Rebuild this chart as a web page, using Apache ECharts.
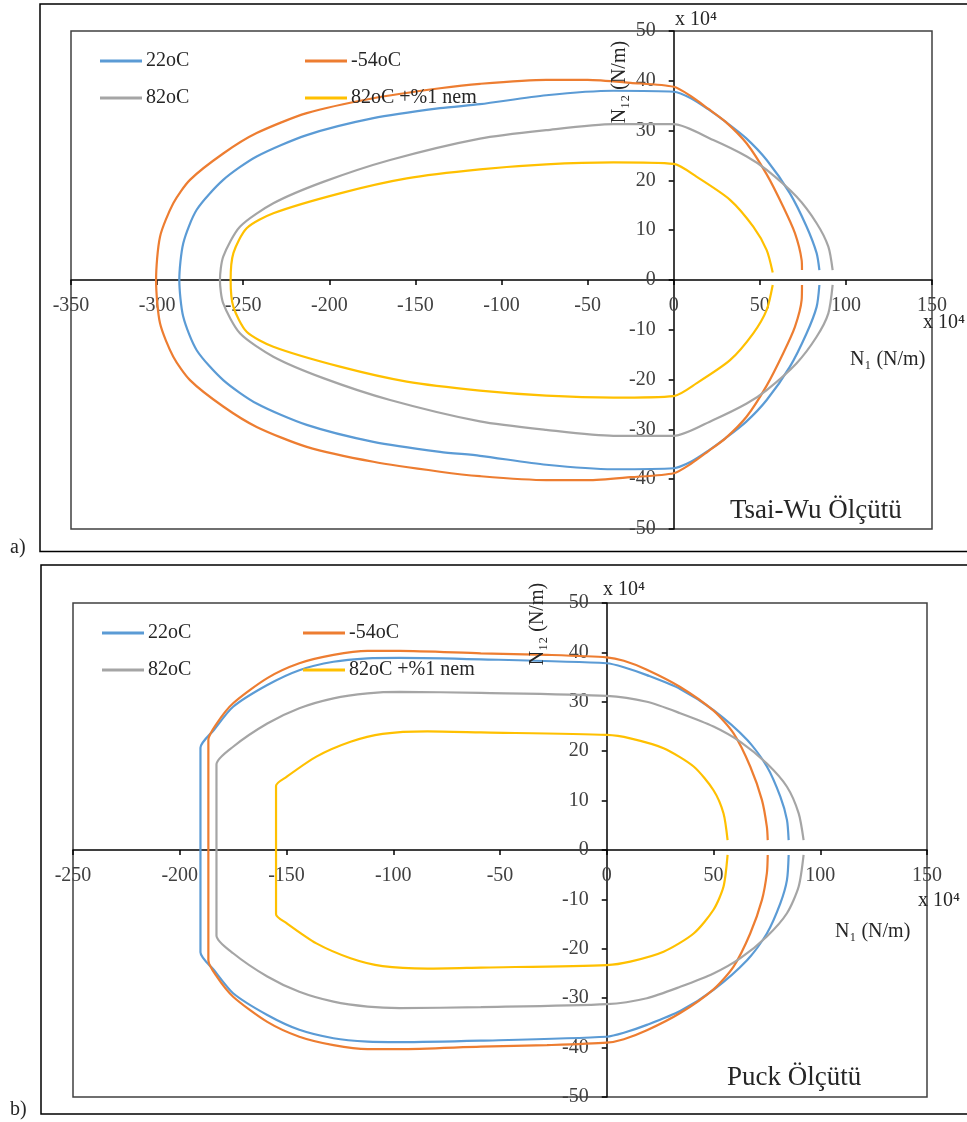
<!DOCTYPE html>
<html>
<head>
<meta charset="utf-8">
<script src="https://cdn.jsdelivr.net/npm/echarts@6/dist/echarts.min.js"></script>
<style>
html,body{margin:0;padding:0;background:#fff;}
#chart{width:967px;height:1122px;}
</style>
</head>
<body>
<div id="chart"></div>
<script>
// ---------- Data (x: N1, y: N12, both in units of 10^4 N/m) ----------
const seriesNames = ['22oC', '-54oC', '82oC', '82oC +%1 nem'];
const seriesColors = ['#5B9BD5', '#ED7D31', '#A5A5A5', '#FFC000'];
const xTicksA = [-350, 150, 50];   // min, max, step (Tsai-Wu)
const xTicksB = [-250, 150, 50];   // min, max, step (Puck)
const yTicks = [-50, 50, 10];

// Tsai-Wu criterion
const tw22Upper = [[84.6,2],[83,5.4],[77.2,10.7],[67.5,17.4],[54,24.1],[42,28.5],[30,31.8],[20,34.3],[10,36.5],[0,37.8],[-35,38],[-74,37.1],[-112.5,35.3],[-135.7,34.5],[-174.4,32.5],[-213.1,29.1],[-242.2,24.8],[-261.6,20.1],[-277,14.1],[-284.8,7.4],[-287.1,0]];
const tw22Lower = [[-284.8,-7.4],[-277,-14.1],[-261.6,-20.1],[-242.2,-24.8],[-213.1,-29.1],[-174.4,-32.5],[-135.7,-34.5],[-112.5,-35.3],[-74,-37.1],[-35,-38],[0,-37.8],[10,-36.5],[20,-34.3],[30,-31.8],[42,-28.5],[54,-24.1],[67.5,-17.4],[77.2,-10.7],[83,-5.4],[84.6,-1]];

const twM54Upper = [[74.5,2],[74.3,4],[70.4,9.4],[63.6,14.7],[54,21.2],[42.4,27.4],[30,31.8],[20,34.4],[10,36.9],[0,38.8],[-25,39.6],[-50,40.2],[-74,40.2],[-112.5,39.4],[-135.7,38.5],[-174.4,36.5],[-213.1,33.5],[-242.2,29.5],[-261.6,25.4],[-280.9,20.1],[-290.6,15.4],[-298.3,8.7],[-300.6,0]];
const twM54Lower = [[-298.3,-8.7],[-290.6,-15.4],[-280.9,-20.1],[-261.6,-25.4],[-242.2,-29.5],[-213.1,-33.5],[-174.4,-36.5],[-135.7,-38.5],[-112.5,-39.4],[-74,-40.2],[-50,-40.2],[-25,-39.6],[0,-38.8],[10,-36.9],[20,-34.4],[30,-31.8],[42.4,-27.4],[54,-21.2],[63.6,-14.7],[70.4,-9.4],[74.3,-4],[74.5,-1]];

const tw82Upper = [[92.3,2],[89.8,6.7],[83,11.4],[71.4,16.7],[54,22.1],[42.4,24.8],[23,28.1],[0,31.3],[-35,31.3],[-74,30.1],[-112.5,28.4],[-164.7,24.1],[-203.5,19.7],[-232.5,15.4],[-251.9,10.7],[-261.6,4.7],[-263.5,0]];
const tw82Lower = [[-261.6,-4.7],[-251.9,-10.7],[-232.5,-15.4],[-203.5,-19.7],[-164.7,-24.1],[-112.5,-28.4],[-74,-30.1],[-35,-31.3],[0,-31.3],[23,-28.1],[42.4,-24.8],[54,-22.1],[71.4,-16.7],[83,-11.4],[89.8,-6.7],[92.3,-1]];

const tw82wUpper = [[57.5,1.5],[54,6],[46.2,10.7],[32.7,16.1],[13.4,20.7],[0,23.3],[-35,23.6],[-74,23.2],[-112.5,22.2],[-155,20.4],[-193.8,17.4],[-232.5,13.4],[-248,10.4],[-255.7,5.4],[-257.3,0]];
const tw82wLower = [[-255.7,-5.4],[-248,-10.4],[-232.5,-13.4],[-193.8,-17.4],[-155,-20.4],[-112.5,-22.2],[-74,-23.2],[-35,-23.6],[0,-23.3],[13.4,-20.7],[32.7,-16.1],[46.2,-10.7],[54,-6],[57.5,-1]];

// Puck criterion
const pk22Upper = [[85.2,2],[84.4,6.1],[81.3,10.8],[75,16.9],[65.7,22.3],[50,28.3],[34.4,32.6],[18.8,35.4],[8,37],[0,37.8],[-59,38.6],[-97,38.9],[-112,38.8],[-128,38.1],[-144,36.4],[-159,33.4],[-175,29],[-184,24.3],[-190.3,20.7],[-190.3,0]];
const pk22Lower = [[-190.3,-20.7],[-184,-24.3],[-175,-29],[-159,-33.4],[-144,-36.4],[-128,-38.1],[-112,-38.8],[-97,-38.9],[-59,-38.6],[0,-37.8],[8,-37],[18.8,-35.4],[34.4,-32.6],[50,-28.3],[65.7,-22.3],[75,-16.9],[81.3,-10.8],[84.4,-6.1],[85.2,-1]];

const pkM54Upper = [[75.4,2],[75,4.7],[72.7,10.1],[67.2,16.9],[59.4,23.6],[50,28.2],[34.4,33],[18.8,36.5],[8,38.3],[0,39],[-28,39.5],[-59,39.8],[-97,40.3],[-112,40.3],[-128,39.5],[-144,37.8],[-159,34.8],[-175,29.7],[-182.7,25.6],[-186.6,22.3],[-186.6,0]];
const pkM54Lower = [[-186.6,-22.3],[-182.7,-25.6],[-175,-29.7],[-159,-34.8],[-144,-37.8],[-128,-39.5],[-112,-40.3],[-97,-40.3],[-59,-39.8],[-28,-39.5],[0,-39],[8,-38.3],[18.8,-36.5],[34.4,-33],[50,-28.2],[59.4,-23.6],[67.2,-16.9],[72.7,-10.1],[75,-4.7],[75.4,-1]];

const pk82Upper = [[92.2,2],[89.9,7.4],[84.4,12.8],[75,17.5],[62.6,21.9],[50,25],[34.4,27.7],[18.8,30],[0,31.2],[-59,31.8],[-97,32],[-112,31.7],[-128,30.7],[-144,28.7],[-159,25.6],[-175,20.9],[-182.8,17.3],[-182.8,0]];
const pk82Lower = [[-182.8,-17.3],[-175,-20.9],[-159,-25.6],[-144,-28.7],[-128,-30.7],[-112,-31.7],[-97,-32],[-59,-31.8],[0,-31.2],[18.8,-30],[34.4,-27.7],[50,-25],[62.6,-21.9],[75,-17.5],[84.4,-12.8],[89.9,-7.4],[92.2,-1]];

const pk82wUpper = [[56.6,2],[54.7,7.4],[50,12.1],[40.7,16.9],[26.6,20.6],[11,22.6],[0,23.3],[-59,23.8],[-84,24],[-105,23.5],[-120,21.9],[-136,18.9],[-150,14.8],[-154.9,13],[-154.9,0]];
const pk82wLower = [[-154.9,-13],[-150,-14.8],[-136,-18.9],[-120,-21.9],[-105,-23.5],[-84,-24],[-59,-23.8],[0,-23.3],[11,-22.6],[26.6,-20.6],[40.7,-16.9],[50,-12.1],[54.7,-7.4],[56.6,-1]];

// ---------- Layout ----------
const FONT = 'Liberation Serif';
const gridA = {left: 71, top: 31, width: 861, height: 498};
const gridB = {left: 73, top: 603, width: 854, height: 494};

// offset that moves an axis from the grid edge onto the zero line of the other axis
function zeroOffsetX(t, g) { return -g.width * (0 - t[0]) / (t[1] - t[0]); }
function zeroOffsetY(g) { return -g.height * (0 - yTicks[0]) / (yTicks[1] - yTicks[0]); }

const chart = echarts.init(document.getElementById('chart'), null, {renderer: 'canvas'});

function xAxisCfg(idx, t, g) {
  return {
    type: 'value', gridIndex: idx, min: t[0], max: t[1], interval: t[2],
    position: 'bottom', offset: zeroOffsetY(g),
    axisLine: {onZero: false, lineStyle: {color: '#000', width: 1.5}},
    axisTick: {show: true, length: 5, lineStyle: {color: '#000', width: 1.5}},
    axisLabel: {margin: 16, fontFamily: FONT, fontSize: 20, color: '#404040'},
    splitLine: {show: false}
  };
}
function yAxisCfg(idx, t, g) {
  return {
    type: 'value', gridIndex: idx, min: yTicks[0], max: yTicks[1], interval: yTicks[2],
    position: 'left', offset: zeroOffsetX(t, g),
    axisLine: {onZero: false, lineStyle: {color: '#000', width: 1.5}},
    axisTick: {show: true, length: 5, lineStyle: {color: '#000', width: 1.5}},
    axisLabel: {margin: 18, fontFamily: FONT, fontSize: 20, color: '#404040'},
    splitLine: {show: false}
  };
}
function lineSeries(name, color, idx, upper, lower) {
  return {
    type: 'line', name: name, xAxisIndex: idx, yAxisIndex: idx,
    data: upper.concat(lower),
    showSymbol: false, symbol: 'none', smooth: 0.25,
    lineStyle: {color: color, width: 2.2}, itemStyle: {color: color},
    z: 3
  };
}
function legendCfg(names, left, top, gap) {
  return {
    data: names, orient: 'vertical', left: left, top: top, itemGap: gap, padding: 0,
    icon: 'rect', itemWidth: 42, itemHeight: 3,
    textStyle: {fontFamily: FONT, fontSize: 20, lineHeight: 20, color: '#262626', padding: [0, 0, 0, -1]},
    selectedMode: false
  };
}
function txt(str, x, y, size, extra) {
  const el = {
    type: 'text', x: x, y: y,
    style: {text: str, fontFamily: FONT, fontSize: size, fill: '#262626', verticalAlign: 'middle', align: 'left'},
    z: 10
  };
  if (extra && extra.rotation) { el.rotation = extra.rotation; el.style.align = 'center'; }
  return el;
}

const option = {
  animation: false,
  backgroundColor: '#fff',
  grid: [
    Object.assign({show: true, borderColor: '#404040', borderWidth: 1.5, containLabel: false}, gridA),
    Object.assign({show: true, borderColor: '#404040', borderWidth: 1.5, containLabel: false}, gridB)
  ],
  xAxis: [xAxisCfg(0, xTicksA, gridA), xAxisCfg(1, xTicksB, gridB)],
  yAxis: [yAxisCfg(0, xTicksA, gridA), yAxisCfg(1, xTicksB, gridB)],
  legend: [
    legendCfg([seriesNames[0], seriesNames[2]], 100, 51, 17),
    legendCfg([seriesNames[1], seriesNames[3]], 305, 51, 17),
    legendCfg([seriesNames[0], seriesNames[2]], 102, 623, 17),
    legendCfg([seriesNames[1], seriesNames[3]], 303, 623, 17)
  ],
  series: [
    lineSeries(seriesNames[0], seriesColors[0], 0, tw22Upper, tw22Lower),
    lineSeries(seriesNames[1], seriesColors[1], 0, twM54Upper, twM54Lower),
    lineSeries(seriesNames[2], seriesColors[2], 0, tw82Upper, tw82Lower),
    lineSeries(seriesNames[3], seriesColors[3], 0, tw82wUpper, tw82wLower),
    lineSeries(seriesNames[0], seriesColors[0], 1, pk22Upper, pk22Lower),
    lineSeries(seriesNames[1], seriesColors[1], 1, pkM54Upper, pkM54Lower),
    lineSeries(seriesNames[2], seriesColors[2], 1, pk82Upper, pk82Lower),
    lineSeries(seriesNames[3], seriesColors[3], 1, pk82wUpper, pk82wLower)
  ],
  graphic: [
    // outer frames
    {type: 'rect', shape: {x: 40, y: 4, width: 960, height: 547.5}, style: {fill: 'none', stroke: '#000', lineWidth: 1.5}, z: 0},
    {type: 'rect', shape: {x: 41, y: 565, width: 960, height: 549}, style: {fill: 'none', stroke: '#000', lineWidth: 1.5}, z: 0},
    // panel a texts
    txt('x 10⁴', 675, 20, 20),
    txt('N₁₂ (N/m)', 620, 82, 20, {rotation: Math.PI / 2}),
    txt('x 10⁴', 923, 323, 20),
    txt('N₁ (N/m)', 850, 360, 20),
    txt('Tsai-Wu Ölçütü', 730, 511, 27),
    txt('a)', 10, 548, 20),
    // panel b texts
    txt('x 10⁴', 603, 590, 20),
    txt('N₁₂ (N/m)', 538, 624, 20, {rotation: Math.PI / 2}),
    txt('x 10⁴', 918, 901, 20),
    txt('N₁ (N/m)', 835, 932, 20),
    txt('Puck Ölçütü', 727, 1078, 27),
    txt('b)', 10, 1110, 20)
  ]
};
chart.setOption(option);
</script>
</body>
</html>
